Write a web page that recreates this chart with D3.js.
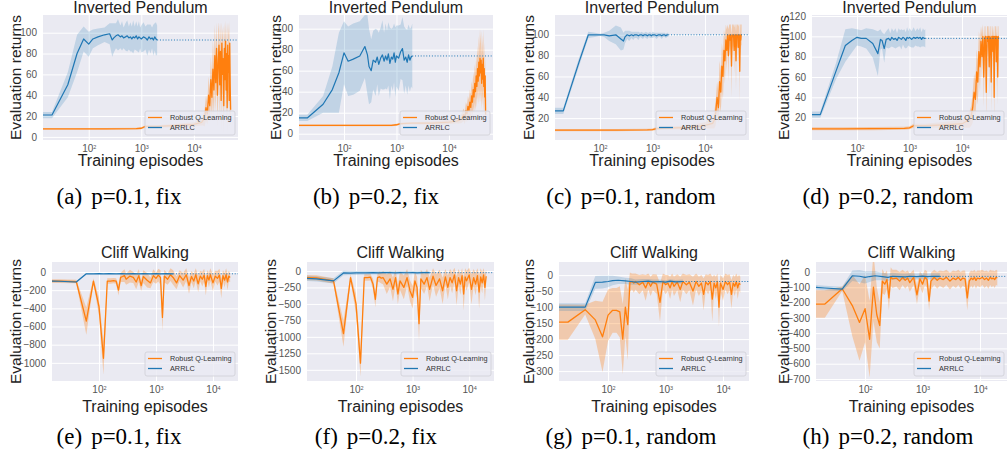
<!DOCTYPE html>
<html>
<head>
<meta charset="utf-8">
<script src="https://cdn.jsdelivr.net/npm/d3@7"></script>
<style>
  body { margin: 0; background: #fff; }
  svg { display: block; }
  .axis text { font-family: "Liberation Sans", Arial, sans-serif; fill: #555; }
  .axis .domain { display: none; }
  .axis line { stroke: #fff; stroke-width: 1; }
  .label { font-family: "Liberation Sans", Arial, sans-serif; fill: #222; }
  .caption { font-family: "Liberation Serif", "Times New Roman", serif; font-size: 23px; fill: #000; }
  .legend text { font-family: "Liberation Sans", Arial, sans-serif; font-size: 7.3px; fill: #333; }
</style>
</head>
<body>
<div id="figure"></div>
<script>
// ---- episodes (x values) ----
var topBlueEpisodes = [13, 20, 40, 60, 80, 100, 120, 150, 200, 250, 280, 300, 330, 360, 400, 430, 460, 500, 540, 580,
  620, 660, 700, 750, 800, 850, 900, 950, 1000, 1100, 1200, 1300, 1400, 1500, 1600, 1700, 1800, 1900, 2000];
var topOrangeEpisodes = [13, 50, 200, 800, 1000, 1200, 2000, 5000, 10000, 14000, 15000,
  16000, 17000, 18000, 19000, 20000, 21000, 22000, 23000, 24000, 25000, 26000, 27000, 28000, 29000, 30000,
  31000, 32000, 33000, 34000, 35000, 36000, 37000, 38000, 39000, 40000, 41000, 42000, 43000, 44000, 45000,
  46000, 47000, 48000, 49000, 50000];
var bottomBlueEpisodes = [13, 20, 40, 60, 80, 100, 120, 150, 200, 250, 300, 400, 500, 600, 800, 1000, 1200, 1500, 2000];
var bottomOrangeEpisodes = [13, 20, 40, 60, 80, 100, 120, 140, 160, 180,
  200, 220, 240, 260, 280, 300, 350, 400, 450, 500,
  550, 600, 700, 800, 900, 1000, 1100, 1200, 1300, 1400,
  1600, 1800, 2000, 2300, 2600, 3000, 3400, 3800, 4200, 4600,
  5000, 5500, 6000, 6500, 7000, 7500, 8000, 8500, 9000, 10000,
  11000, 12000, 13000, 14000, 15000, 16000, 17000, 18000, 19000, 20000];

var xTickValues = [100, 1000, 10000];

// ---- Inverted Pendulum, p=0.1 fix ----
var pendA_arrlcMean = [21, 21, 50, 80, 94, 89, 94, 96, 98, 99, 93, 95, 97, 98, 96, 97, 95, 96, 97, 95,
  96, 94, 96, 95, 97, 94, 96, 95, 94, 96, 95, 93, 96, 94, 95, 93, 96, 94, 93];
var pendA_arrlcSpread = [3, 3, 12, 18, 12, 12, 9, 8, 7, 10, 16, 14, 12, 15, 11, 14, 10, 13, 15, 11,
  14, 12, 16, 11, 14, 12, 15, 10, 13, 14, 11, 15, 12, 14, 10, 15, 13, 16, 14];
var pendA_rqlMean = [7.6, 7.6, 7.7, 8, 8.3, 10, 10, 11, 12, 14, 16,
  18, 28, 22, 40, 30, 55, 38, 65, 45, 78, 52, 85, 40, 70, 88, 50, 82, 35, 90, 60,
  75, 30, 85, 55, 92, 45, 80, 28, 88, 62, 78, 35, 90, 50, 26];
var pendA_rqlSpread = [0.8, 0.8, 0.8, 0.8, 1, 1.2, 1.2, 1.5, 2, 3, 5,
  8, 12, 10, 18, 15, 22, 20, 28, 25, 30, 28, 25, 30, 32, 22, 35, 28, 30, 20, 35,
  32, 28, 25, 35, 20, 35, 30, 25, 22, 35, 32, 28, 22, 35, 15];

// ---- Inverted Pendulum, p=0.2 fix ----
var pendB_arrlcMean = [15, 15, 28, 42, 58, 77, 69, 71, 74, 83, 75, 64, 60, 70, 68, 73, 66, 72, 75, 69,
  74, 70, 76, 67, 73, 71, 77, 68, 74, 72, 78, 81, 70, 73, 68, 75, 70, 73, 74];
var pendB_arrlcSpread = [3, 3, 8, 22, 38, 30, 33, 34, 33, 30, 38, 36, 30, 28, 32, 26, 30, 29, 33, 27,
  31, 28, 30, 34, 27, 30, 28, 33, 29, 31, 26, 30, 32, 27, 31, 29, 30, 28, 31];
var pendB_rqlMean = [8, 8, 8, 8, 8.5, 9.5, 10, 10, 11, 12, 12.5,
  13, 14, 16, 18, 15, 22, 19, 26, 22, 30, 25, 36, 30, 42, 35, 48, 40, 55, 45, 62,
  50, 68, 55, 72, 58, 70, 48, 66, 52, 72, 45, 62, 35, 55, 18];
var pendB_rqlSpread = [0.8, 0.8, 0.8, 0.8, 1, 1, 1, 1.5, 2, 2, 3,
  3, 4, 5, 6, 6, 8, 8, 10, 10, 12, 12, 14, 14, 16, 16, 18, 18, 20, 20, 22,
  22, 25, 25, 28, 28, 28, 25, 28, 25, 28, 25, 25, 20, 20, 8];

// ---- Inverted Pendulum, p=0.1 random ----
var pendC_arrlcMean = [27, 27, 74, 100, 100, 100, 100, 99, 100, 96, 94, 98, 100, 99, 100, 99, 100, 100, 99, 100,
  100, 99, 100, 100, 99, 100, 100, 99, 100, 100, 99, 100, 100, 99, 100, 100, 99, 100, 100];
var pendC_arrlcSpread = [3, 3, 4, 3, 2, 1, 2, 5, 9, 11, 8, 6, 4, 5, 3, 4, 3, 3, 4, 2,
  3, 3, 2, 3, 3, 2, 3, 2, 3, 2, 3, 2, 2, 3, 2, 2, 2, 2, 2];
var pendC_rqlMean = [8.5, 8.5, 8.5, 8.8, 9, 10, 10.5, 11, 13, 15, 18,
  25, 40, 30, 55, 45, 70, 60, 85, 75, 95, 85, 100, 80, 100, 95, 100, 70, 100, 98, 100,
  85, 100, 100, 75, 100, 98, 100, 88, 100, 100, 65, 100, 95, 100, 100];
var pendC_rqlSpread = [1, 1, 1, 1, 1, 1.5, 1.5, 2, 3, 5, 8,
  12, 15, 15, 20, 20, 22, 22, 20, 22, 15, 20, 10, 25, 10, 15, 10, 30, 10, 12, 10,
  22, 10, 10, 28, 10, 12, 10, 20, 10, 10, 30, 10, 15, 10, 10];

// ---- Inverted Pendulum, p=0.2 random ----
var pendD_arrlcMean = [23, 23, 66, 91, 96, 99, 98, 98, 93, 83, 97, 96, 88, 97, 98, 96, 99, 97, 98, 96,
  99, 98, 97, 99, 98, 96, 99, 98, 99, 97, 99, 98, 99, 98, 99, 97, 99, 98, 98];
var pendD_arrlcSpread = [3, 3, 8, 16, 12, 8, 8, 10, 14, 22, 10, 8, 14, 8, 10, 7, 9, 8, 10, 7,
  9, 8, 10, 7, 9, 8, 10, 7, 9, 8, 10, 7, 9, 8, 10, 7, 9, 8, 9];
var pendD_rqlMean = [9, 9, 9.2, 9.5, 10, 12, 12, 13, 14, 18, 22,
  30, 45, 38, 65, 55, 85, 70, 95, 80, 100, 60, 98, 100, 45, 100, 95, 100, 70, 100, 98,
  55, 100, 100, 85, 100, 40, 100, 98, 100, 75, 100, 95, 60, 100, 98];
var pendD_rqlSpread = [1.5, 1.5, 1.5, 1.5, 1.5, 2, 2, 3, 4, 8, 10,
  15, 18, 18, 22, 22, 20, 25, 15, 22, 12, 30, 12, 10, 30, 10, 15, 10, 28, 10, 12,
  30, 10, 10, 18, 10, 30, 10, 12, 10, 25, 10, 15, 28, 10, 12];

// ---- Cliff Walking, p=0.1 fix ----
var cliffE_arrlcMean = [-100, -102, -110, -20, -20, -19, -20, -19, -20, -18, -20, -19, -20, -19, -20, -19, -20, -19, -20];
var cliffE_arrlcSpread = [10, 10, 12, 8, 6, 5, 5, 5, 5, 5, 5, 5, 5, 5, 5, 5, 5, 5, 5];
var cliffE_rqlMean = [-100, -100, -105, -540, -100, -380, -950, -100, -100, -95,
  -100, -200, -60, -50, -40, -80, -45, -60, -110, -40,
  -150, -50, -90, -120, -40, -70, -35, -60, -500, -45,
  -80, -30, -60, -120, -40, -90, -30, -150, -50, -100,
  -30, -130, -45, -80, -35, -160, -40, -90, -30, -120,
  -45, -70, -35, -180, -40, -90, -30, -110, -45, -60];
var cliffE_rqlSpread = [20, 20, 20, 150, 30, 100, 180, 30, 30, 30,
  30, 60, 50, 60, 70, 60, 70, 60, 80, 70,
  60, 70, 80, 60, 70, 60, 70, 80, 150, 70,
  60, 70, 80, 70, 60, 80, 70, 90, 60, 80,
  70, 90, 60, 80, 70, 100, 60, 80, 70, 90,
  60, 80, 70, 110, 60, 80, 70, 90, 60, 50];

// ---- Cliff Walking, p=0.2 fix ----
var cliffF_arrlcMean = [-110, -120, -150, -30, -32, -30, -28, -30, -26, -28, -24, -26, -30, -24, -27, -25, -28, -24, -26];
var cliffF_arrlcSpread = [40, 40, 40, 35, 30, 30, 28, 28, 26, 26, 25, 25, 25, 25, 25, 25, 25, 25, 25];
var cliffF_rqlMean = [-100, -105, -150, -950, -100, -500, -1400, -100, -100, -95,
  -200, -430, -100, -90, -110, -100, -200, -120, -280, -100,
  -350, -150, -250, -100, -300, -400, -150, -250, -800, -120,
  -200, -100, -280, -80, -220, -120, -300, -90, -250, -100,
  -180, -60, -300, -100, -200, -70, -350, -90, -150, -60,
  -280, -100, -200, -70, -320, -90, -180, -60, -250, -80];
var cliffF_rqlSpread = [40, 40, 40, 200, 50, 150, 200, 50, 50, 50,
  80, 120, 60, 80, 80, 100, 150, 120, 180, 120,
  150, 140, 180, 130, 160, 170, 140, 160, 250, 140,
  150, 130, 180, 120, 170, 140, 200, 120, 180, 130,
  160, 110, 220, 130, 160, 110, 250, 130, 150, 110,
  230, 130, 170, 110, 250, 130, 160, 100, 200, 100];

// ---- Cliff Walking, p=0.1 random ----
var cliffG_arrlcMean = [-100, -100, -100, -23, -22, -20, -17, -16, -18, -20, -22, -20, -19, -21, -20, -22, -19, -21, -20];
var cliffG_arrlcSpread = [12, 12, 12, 20, 20, 18, 15, 12, 10, 10, 8, 8, 7, 7, 6, 6, 6, 6, 6];
var cliffG_rqlMean = [-147, -147, -108, -140, -193, -125, -110, -110, -115, -200,
  -100, -155, -22, -20, -25, -20, -30, -22, -40, -20,
  -35, -22, -28, -85, -20, -30, -25, -40, -20, -35,
  -22, -45, -20, -30, -22, -50, -20, -35, -25, -60,
  -22, -30, -20, -75, -25, -40, -20, -100, -25, -45,
  -20, -30, -22, -60, -25, -35, -20, -40, -25, -30];
var cliffG_rqlSpread = [55, 55, 15, 60, 110, 80, 70, 70, 80, 110,
  90, 110, 30, 25, 30, 25, 30, 25, 40, 25,
  30, 25, 30, 60, 25, 30, 25, 35, 25, 30,
  25, 40, 25, 30, 25, 45, 25, 30, 25, 50,
  25, 30, 25, 70, 25, 35, 25, 60, 25, 35,
  25, 30, 25, 45, 25, 30, 25, 35, 25, 25];

// ---- Cliff Walking, p=0.2 random ----
var cliffH_arrlcMean = [-100, -105, -112, -25, -28, -35, -30, -25, -30, -35, -28, -30, -32, -28, -30, -27, -30, -28, -29];
var cliffH_arrlcSpread = [15, 15, 15, 35, 40, 40, 35, 30, 25, 25, 22, 20, 20, 20, 20, 20, 20, 20, 20];
var cliffH_rqlMean = [-210, -210, -110, -220, -330, -240, -440, -100, -280, -350,
  -60, -80, -50, -170, -30, -45, -40, -60, -35, -55,
  -40, -70, -35, -150, -45, -80, -35, -50, -190, -60,
  -35, -55, -40, -50, -35, -60, -40, -50, -35, -55,
  -40, -45, -170, -60, -40, -50, -35, -55, -40, -45,
  -35, -50, -40, -55, -35, -45, -40, -50, -35, -40];
var cliffH_rqlSpread = [90, 90, 15, 200, 250, 220, 250, 220, 180, 150,
  80, 70, 60, 80, 60, 60, 55, 60, 50, 55,
  50, 60, 50, 60, 50, 60, 50, 55, 60, 55,
  50, 55, 50, 55, 50, 55, 50, 55, 50, 55,
  50, 55, 80, 55, 50, 55, 50, 55, 50, 55,
  50, 55, 50, 55, 50, 55, 50, 55, 50, 50];

var blue = '#1f77b4', orange = '#ff7f0e';
var rows = {
  top: {titleY: 13, xLabelY: 166, captionY: 204},
  bottom: {titleY: 258, xLabelY: 412, captionY: 444}
};

var panels = [
  {id: 'a', row: 'top', title: 'Inverted Pendulum', caption: ['(a)', 'p=0.1, fix'], captionX: 119, yLabelX: 21,
    box: {left: 43, top: 15, width: 195, height: 125}, xDomain: [13.5, 69000], yDomain: [-3, 117], yTicks: [0, 20, 40, 60, 80, 100],
    arrlc: [topBlueEpisodes, pendA_arrlcMean, pendA_arrlcSpread], rql: [topOrangeEpisodes, pendA_rqlMean, pendA_rqlSpread]},
  {id: 'b', row: 'top', title: 'Inverted Pendulum', caption: ['(b)', 'p=0.2, fix'], captionX: 376, yLabelX: 281,
    box: {left: 299, top: 15, width: 194, height: 125}, xDomain: [13.9, 69000], yDomain: [-6, 113], yTicks: [0, 20, 40, 60, 80, 100],
    arrlc: [topBlueEpisodes, pendB_arrlcMean, pendB_arrlcSpread], rql: [topOrangeEpisodes, pendB_rqlMean, pendB_rqlSpread]},
  {id: 'c', row: 'top', title: 'Inverted Pendulum', caption: ['(c)', 'p=0.1, random'], captionX: 631, yLabelX: 534,
    box: {left: 555, top: 15, width: 194, height: 125}, xDomain: [13.9, 69000], yDomain: [-1, 119], yTicks: [20, 40, 60, 80, 100],
    arrlc: [topBlueEpisodes, pendC_arrlcMean, pendC_arrlcSpread], rql: [topOrangeEpisodes, pendC_rqlMean, pendC_rqlSpread]},
  {id: 'd', row: 'top', title: 'Inverted Pendulum', caption: ['(d)', 'p=0.2, random'], captionX: 888, yLabelX: 789,
    box: {left: 812, top: 15, width: 195, height: 125}, xDomain: [13.9, 72000], yDomain: [-2, 121], yTicks: [20, 40, 60, 80, 100, 120],
    arrlc: [topBlueEpisodes, pendD_arrlcMean, pendD_arrlcSpread], rql: [topOrangeEpisodes, pendD_rqlMean, pendD_rqlSpread]},
  {id: 'e', row: 'bottom', title: 'Cliff Walking', caption: ['(e)', 'p=0.1, fix'], captionX: 119, yLabelX: 21,
    box: {left: 52, top: 262, width: 186, height: 119}, xDomain: [15, 27500], yDomain: [-1200, 110], yTicks: [-1000, -800, -600, -400, -200, 0],
    arrlc: [bottomBlueEpisodes, cliffE_arrlcMean, cliffE_arrlcSpread], rql: [bottomOrangeEpisodes, cliffE_rqlMean, cliffE_rqlSpread]},
  {id: 'f', row: 'bottom', title: 'Cliff Walking', caption: ['(f)', 'p=0.2, fix'], captionX: 376, yLabelX: 276,
    box: {left: 307, top: 262, width: 187, height: 119}, xDomain: [13.6, 27500], yDomain: [-1670, 136], yTicks: [-1500, -1250, -1000, -750, -500, -250, 0],
    arrlc: [bottomBlueEpisodes, cliffF_arrlcMean, cliffF_arrlcSpread], rql: [bottomOrangeEpisodes, cliffF_rqlMean, cliffF_rqlSpread]},
  {id: 'g', row: 'bottom', title: 'Cliff Walking', caption: ['(g)', 'p=0.1, random'], captionX: 631, yLabelX: 534,
    box: {left: 559, top: 262, width: 190, height: 119}, xDomain: [14, 28300], yDomain: [-331, 41], yTicks: [-300, -250, -200, -150, -100, -50, 0],
    arrlc: [bottomBlueEpisodes, cliffG_arrlcMean, cliffG_arrlcSpread], rql: [bottomOrangeEpisodes, cliffG_rqlMean, cliffG_rqlSpread]},
  {id: 'h', row: 'bottom', title: 'Cliff Walking', caption: ['(h)', 'p=0.2, random'], captionX: 888, yLabelX: 789,
    box: {left: 816, top: 262, width: 191, height: 119}, xDomain: [14, 29500], yDomain: [-713, 65], yTicks: [-700, -600, -500, -400, -300, -200, -100, 0],
    arrlc: [bottomBlueEpisodes, cliffH_arrlcMean, cliffH_arrlcSpread], rql: [bottomOrangeEpisodes, cliffH_rqlMean, cliffH_rqlSpread]}
];

var svg = d3.select('#figure').append('svg')
  .attr('width', 1008)
  .attr('height', 462);

var zipSeries = function (s) {
  return s[0].map(function (ep, i) {
    return {ep: ep, mean: s[1][i], spread: s[2][i]};
  });
};

panels.forEach(function (p) {
  var b = p.box;
  var row = rows[p.row];
  var x = d3.scaleLog().domain(p.xDomain).range([0, b.width]);
  var y = d3.scaleLinear().domain(p.yDomain).range([b.height, 0]);

  var g = svg.append('g').attr('transform', 'translate(' + b.left + ',' + b.top + ')');

  g.append('rect')
    .attr('width', b.width)
    .attr('height', b.height)
    .attr('fill', '#eaeaf2');

  // Grid and tick labels
  var gx = g.append('g')
    .attr('class', 'axis')
    .attr('transform', 'translate(0,' + b.height + ')')
    .attr('font-size', 7.5)
    .call(d3.axisBottom(x).tickValues(xTickValues).tickSize(-b.height).tickPadding(4.5));
  gx.selectAll('.tick text').text(null).each(function (d) {
    var t = d3.select(this);
    t.append('tspan').text('10');
    t.append('tspan').attr('dy', -3).attr('font-size', 5.5).text(Math.round(Math.log10(d)));
  });

  g.append('g')
    .attr('class', 'axis')
    .attr('font-size', 7.5)
    .call(d3.axisLeft(y).tickValues(p.yTicks).tickSize(-b.width).tickPadding(6).tickFormat(d3.format('d')))
    .selectAll('.tick text').text(function (d) { return d < 0 ? '\u2212' + Math.abs(d) : d; });

  g.append('clipPath').attr('id', 'clip-' + p.id)
    .append('rect').attr('width', b.width).attr('height', b.height);

  var plot = g.append('g').attr('clip-path', 'url(#clip-' + p.id + ')');

  var band = d3.area()
    .x(function (d) { return x(d.ep); })
    .y0(function (d) { return y(d.mean - d.spread); })
    .y1(function (d) { return y(d.mean + d.spread); });
  var line = d3.line()
    .x(function (d) { return x(d.ep); })
    .y(function (d) { return y(d.mean); });

  var rql = zipSeries(p.rql);
  var arrlc = zipSeries(p.arrlc);

  plot.append('path').datum(rql).attr('d', band).attr('fill', orange).attr('fill-opacity', 0.3);
  plot.append('path').datum(arrlc).attr('d', band).attr('fill', blue).attr('fill-opacity', 0.2);
  plot.append('path').datum(rql).attr('d', line)
    .attr('fill', 'none').attr('stroke', orange).attr('stroke-width', 1.3).attr('stroke-linejoin', 'round');
  plot.append('path').datum(arrlc).attr('d', line)
    .attr('fill', 'none').attr('stroke', blue).attr('stroke-width', 1.2).attr('stroke-linejoin', 'round');

  // ARRLC final level carried on as a dotted line
  var last = arrlc[arrlc.length - 1];
  plot.append('line')
    .attr('x1', x(last.ep)).attr('x2', b.width)
    .attr('y1', y(last.mean)).attr('y2', y(last.mean))
    .attr('stroke', blue).attr('stroke-width', 1).attr('stroke-dasharray', '1,1.8');

  // Legend
  var lg = g.append('g')
    .attr('class', 'legend')
    .attr('transform', 'translate(' + (b.width - 93) + ',' + (b.height - 29) + ')');
  lg.append('rect')
    .attr('width', 90).attr('height', 24).attr('rx', 2)
    .attr('fill', '#eaeaf2').attr('fill-opacity', 0.8)
    .attr('stroke', '#cfcfd6').attr('stroke-width', 0.8);
  [['Robust Q-Learning', orange], ['ARRLC', blue]].forEach(function (item, i) {
    var yy = 6.5 + i * 10;
    lg.append('line').attr('x1', 3).attr('x2', 17).attr('y1', yy).attr('y2', yy)
      .attr('stroke', item[1]).attr('stroke-width', 1.3);
    lg.append('text').attr('x', 25).attr('y', yy + 2.5).text(item[0]);
  });

  // Titles and axis labels
  svg.append('text').attr('class', 'label')
    .attr('x', b.left + b.width / 2).attr('y', row.titleY)
    .attr('text-anchor', 'middle').attr('font-size', 16)
    .text(p.title);
  svg.append('text').attr('class', 'label')
    .attr('x', b.left + b.width / 2).attr('y', row.xLabelY)
    .attr('text-anchor', 'middle').attr('font-size', 16)
    .text('Training episodes');
  svg.append('text').attr('class', 'label')
    .attr('transform', 'translate(' + p.yLabelX + ',' + (b.top + b.height / 2) + ') rotate(-90)')
    .attr('text-anchor', 'middle').attr('font-size', 15.5)
    .text('Evaluation returns');

  var cap = svg.append('text').attr('class', 'caption')
    .attr('x', p.captionX).attr('y', row.captionY)
    .attr('text-anchor', 'middle');
  cap.append('tspan').text(p.caption[0]);
  cap.append('tspan').attr('dx', 9).text(p.caption[1]);
});
</script>
</body>
</html>
